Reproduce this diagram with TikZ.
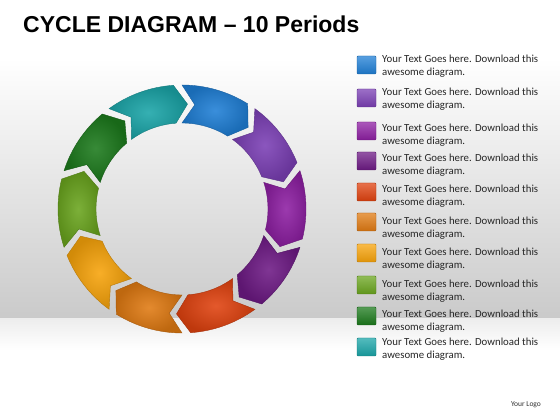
\documentclass[tikz,border=0pt]{standalone}
\usepackage{fontspec}
\setmainfont{Carlito}
\newfontfamily\titlefont{Liberation Sans}
\usepackage{xcolor}

\definecolor{cblue}{HTML}{1F7FD6}
\definecolor{cviolet}{HTML}{7B3FB5}
\definecolor{cpurple}{HTML}{8E1FA3}
\definecolor{cplum}{HTML}{6E1A85}
\definecolor{cred}{HTML}{E0420F}
\definecolor{corange}{HTML}{E07A12}
\definecolor{cyellow}{HTML}{F7A30A}
\definecolor{clime}{HTML}{6AA51E}
\definecolor{cgreen}{HTML}{1C7A1C}
\definecolor{cteal}{HTML}{1AA5A8}
\definecolor{floorgray}{HTML}{CACACA}

% one chevron of the ring: #1 start angle, #2 colour
\newcommand{\ringseg}[2]{%
  \shade[inner color=#2!88!white, outer color=#2!85!black, draw=#2!75!black, line width=0.4pt]
    (#1:124) arc[start angle=#1, end angle=#1-32, radius=124]
    -- (#1-39:105) -- (#1-32:86)
    arc[start angle=#1-32, end angle=#1, radius=86]
    -- (#1-7:105) -- cycle;}

\begin{document}
\begin{tikzpicture}[
  x=1pt, y=1pt,
  legsq/.style={rectangle, minimum width=19pt, minimum height=18pt, inner sep=0pt,
    rounded corners=1pt, top color=#1!75!white, bottom color=#1!90!black, draw=#1!75!black},
  legtext/.style={anchor=west, align=left, inner sep=0pt, text=black!85,
    font=\fontsize{10.8}{13}\selectfont},
  titletext/.style={anchor=base west, inner sep=0pt, font=\titlefont\bfseries\fontsize{23}{28}\selectfont}
]
\useasboundingbox (0,0) rectangle (560,420);

% Background and floor
\fill[white] (0,0) rectangle (560,420);
\shade[top color=white, bottom color=floorgray] (0,101) rectangle (560,362);
\shade[top color=black!7, bottom color=white] (0,70) rectangle (560,101);

% Title
\node[titletext] (title) at (23,387) {CYCLE DIAGRAM – 10 Periods};

% Reflection of the bottom chevrons
\begin{scope}
  \clip (100,60) rectangle (300,84);
  \begin{scope}[shift={(182,-43)}, opacity=0.22]
    \ringseg{-54}{cred}
    \ringseg{-90}{corange}
  \end{scope}
\end{scope}

% Ring of ten chevrons, clockwise from the top
\begin{scope}[shift={(182,211)}]
  \foreach \ang/\col in {90/cblue, 54/cviolet, 18/cpurple, -18/cplum, -54/cred,
      -90/corange, -126/cyellow, -162/clime, -198/cgreen, -234/cteal}
    {\ringseg{\ang}{\col}}
\end{scope}

% Legend
\foreach \col/\sy/\ty [count=\i] in {cblue/355/353.5, cviolet/322/320.5, cpurple/289/284.5,
    cplum/259/254.5, cred/228/223.5, corange/198/191.5, cyellow/167/160.5,
    clime/135/128.5, cgreen/104/98.5, cteal/73/70.5} {
  \node[legsq=\col] (sq\i) at (366.5,\sy) {};
  \node[legtext] (txt\i) at (382,\ty) {Your Text Goes here. Download this\\awesome diagram.};
}

\node[inner sep=0pt, font=\fontsize{7.5}{9}\selectfont, text=black!80] (logo) at (526,15) {Your Logo};

\end{tikzpicture}
\end{document}
